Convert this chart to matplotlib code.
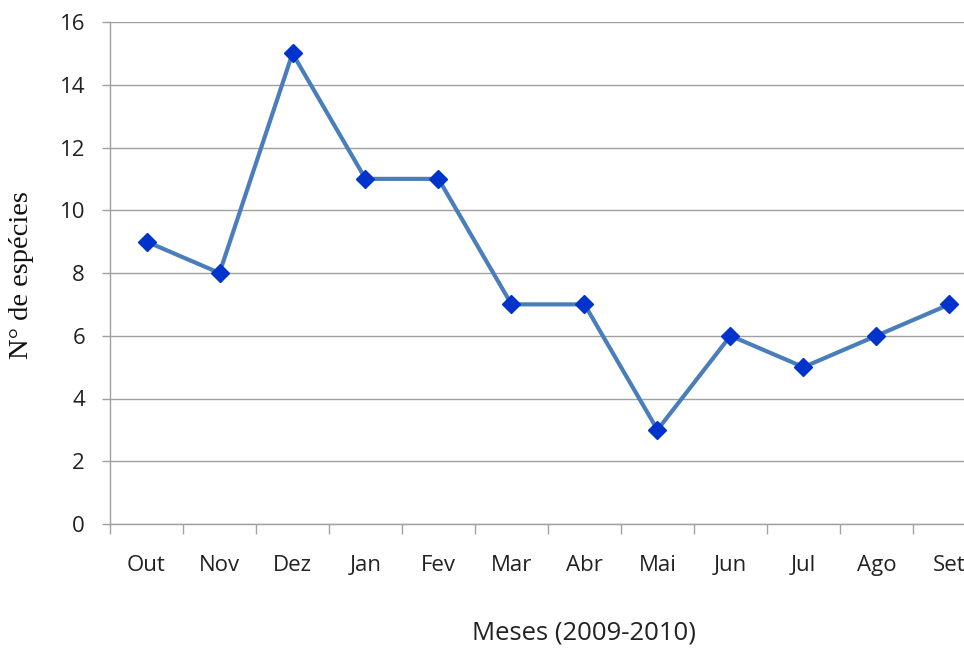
import matplotlib.pyplot as plt
import numpy as np

meses = ['Out', 'Nov', 'Dez', 'Jan', 'Fev', 'Mar', 'Abr', 'Mai', 'Jun', 'Jul', 'Ago', 'Set']
especies = [9, 8, 15, 11, 11, 7, 7, 3, 6, 5, 6, 7]

fig = plt.figure(figsize=(9.64, 6.48), dpi=100)
# plot area runs past the right edge of the figure, like the original
ax = fig.add_axes([110 / 964, 1 - 524 / 648, 876 / 964, 502 / 648])

x = np.arange(len(meses))
ax.plot(x, especies, color='#4A7EBB', lw=3.0, marker='D', ms=9,
        mfc='#0033CC', mec='#0033CC', zorder=3)

ax.set_xlim(-0.5, len(meses) - 0.5)
ax.set_ylim(0, 16)
ax.set_yticks(range(0, 17, 2))
ax.yaxis.grid(True, color='#A0A0A0', lw=1.0)
ax.set_axisbelow(True)

# ticks between categories, labels at category centres
ax.set_xticks(np.arange(-0.5, len(meses) + 0.5, 1))
ax.set_xticklabels([])
ax.set_xticks(x, minor=True)
ax.set_xticklabels(meses, minor=True)
ax.tick_params(axis='x', which='major', length=7, color='#A0A0A0', width=1)
ax.tick_params(axis='x', which='minor', length=0, pad=22)
ax.tick_params(axis='y', length=6, color='#A0A0A0', width=1, pad=12)

for lab in ax.get_xticklabels(minor=True) + ax.get_yticklabels():
    lab.set_fontfamily('Open Sans')
    lab.set_fontsize(16)
    lab.set_color('#222222')

for s in ['top', 'right']:
    ax.spines[s].set_visible(False)
for s in ['left', 'bottom']:
    ax.spines[s].set_color('#A0A0A0')
    ax.spines[s].set_linewidth(1)

fig.text(22 / 964, 1 - 275 / 648, 'N° de espécies', rotation=90, va='center', ha='center',
         family='Liberation Serif', fontsize=20.5, color='#111111')
fig.text(584 / 964, 1 - 633 / 648, 'Meses (2009-2010)', ha='center', va='center',
         family='Open Sans', fontsize=18.5, color='#222222')

fig.savefig('out.png', dpi=100)
